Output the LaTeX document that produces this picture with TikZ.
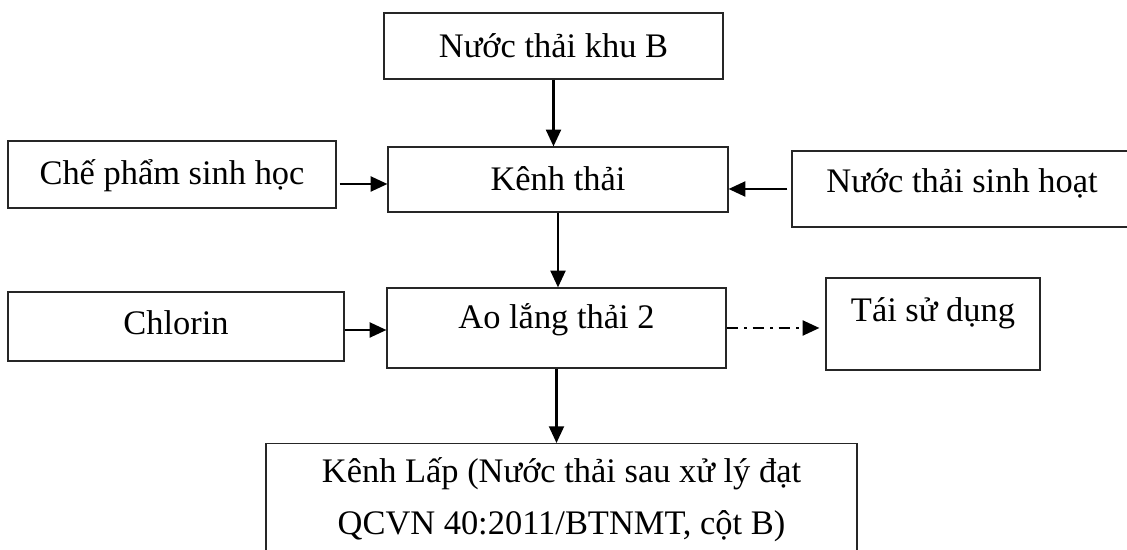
\documentclass[tikz,border=0pt]{standalone}
\usepackage{fontspec}
\setmainfont{Liberation Serif}
\usepackage{tikz}
\usetikzlibrary{arrows.meta}

\begin{document}
\begin{tikzpicture}[x=0.02cm, y=0.02cm]
            \tikzstyle{every node}+=[inner sep=0pt, font=\fontsize{19.6}{29.6}\selectfont]
            \tikzstyle{box}=[draw=black!85, line width=0.7pt, rectangle]
            \tikzstyle{line box}=[box, text height=0.48cm]
            \tikzstyle{arr}=[line width=1.2pt, -{Triangle[length=9.5pt,width=8.5pt]}]
            \useasboundingbox (0,0) rectangle (1127,-550);
            \clip (0,0) rectangle (1127,-550);
            \node [line box, minimum width=6.78cm, minimum height=1.32cm, text depth=0cm] (khuB) at (553.5,-46) {Nước thải khu B};
            \node [line box, minimum width=6.80cm, minimum height=1.30cm, text depth=0.02cm] (kenh) at (558,-179.5) {Kênh thải};
            \node [line box, minimum width=6.56cm, minimum height=1.34cm, text depth=0.08cm] (chepham) at (172,-174.5) {Chế phẩm sinh học};
            \node [line box, minimum width=6.80cm, minimum height=1.52cm, text depth=0.32cm] (sinhhoat) at (962,-189) {Nước thải sinh hoạt};
            \node [line box, minimum width=6.72cm, minimum height=1.38cm, text depth=0.14cm] (chlorin) at (176,-326.5) {Chlorin};
            \node [line box, minimum width=6.78cm, minimum height=1.60cm, text depth=0.46cm] (aolang) at (556.5,-328) {Ao lắng thải 2};
            \node [line box, minimum width=4.28cm, minimum height=1.84cm, text depth=0.56cm] (taisd) at (933,-324) {Tái sử dụng};
            \node [box, anchor=north, align=center, minimum width=11.82cm, minimum height=2.26cm] (kenhlap) at (561.5,-443) {Kênh Lấp (Nước thải sau xử lý đạt\\QCVN 40:2011/BTNMT, cột B)};
            \coordinate (c1) at ([xshift=0.06cm,yshift=-0.19cm]chepham.east);
            \coordinate (c2) at ([yshift=-0.07cm]chlorin.east);
            \draw [arr] (khuB.south) -- (khuB.south |- kenh.north);
            \draw [arr] (c1) -- (c1 -| kenh.west);
            \draw [arr] ([xshift=-0.08cm]sinhhoat.west) -- (sinhhoat.west -| kenh.east);
            \draw [arr] (kenh.south) -- (kenh.south |- aolang.north);
            \draw [arr] (c2) -- (c2 -| aolang.west);
            \draw [arr, dash pattern=on 6.5pt off 3.5pt on 1.5pt off 3.3pt, shorten >=0.12cm] (aolang.east) -- (aolang.east -| taisd.west);
            \draw [arr] (aolang.south) -- (aolang.south |- kenhlap.north);
\end{tikzpicture}
\end{document}
